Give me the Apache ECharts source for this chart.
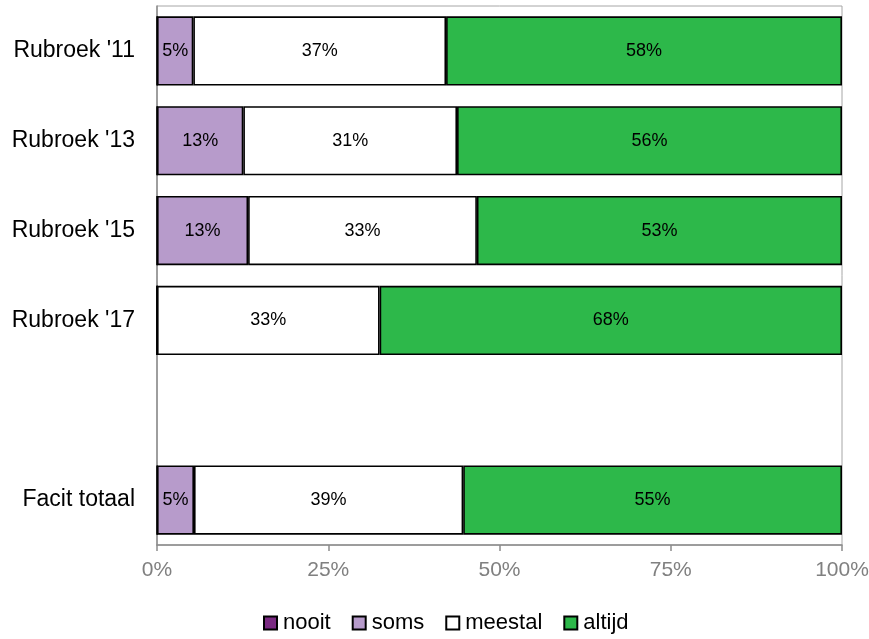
<!DOCTYPE html>
<html><head><meta charset="utf-8">
<script src="https://cdn.jsdelivr.net/npm/echarts@6/dist/echarts.min.js"></script>
<style>html,body{margin:0;padding:0;background:#fff}#c{width:869px;height:639px}</style>
</head><body><div id="c"></div>
<script>
var categories = ["Rubroek '11", "Rubroek '13", "Rubroek '15", "Rubroek '17", "", "Facit totaal"];
var nooit   = [0, 0, 0, 0, null, 0];
var soms    = [5.3, 12.6, 13.3, 0, null, 5.4];
var meestal = [36.9, 31.2, 33.4, 32.5, null, 39.3];
var altijd  = [57.8, 56.2, 53.3, 67.5, null, 55.3];
var tickLabels = ['0%', '25%', '50%', '75%', '100%'];

var font = '"Liberation Sans", Arial, sans-serif';
function mk(name, data, color) {
  return {
    name: name, type: 'bar', stack: 'all', data: data, barWidth: '77%',
    itemStyle: { color: color, borderColor: '#000', borderWidth: 1.6 },
    label: {
      show: true, position: 'inside', color: '#000', fontFamily: font, fontSize: 18,
      formatter: function (p) { return (p.value == null || p.value < 1) ? '' : Math.round(p.value) + '%'; }
    }
  };
}
var chart = echarts.init(document.getElementById('c'));
chart.setOption({
  animation: false,
  grid: { left: 157, right: 27, top: 6, bottom: 94, show: true, borderColor: '#a6a6a6', borderWidth: 1,
          containLabel: false, outerBoundsMode: 'none' },
  xAxis: {
    type: 'value', min: 0, max: 100, interval: 25,
    axisLine: { show: true, lineStyle: { color: '#8c8c8c', width: 1.5 } },
    axisTick: { show: true, length: 6, lineStyle: { color: '#8c8c8c', width: 1.5 } },
    splitLine: { show: false },
    axisLabel: { color: '#808080', fontFamily: font, fontSize: 21, margin: 15,
      formatter: function (v) { return tickLabels[Math.round(v / 25)]; } }
  },
  yAxis: {
    type: 'category', data: categories, inverse: true,
    axisLine: { show: true, lineStyle: { color: '#8c8c8c', width: 1.5 } },
    axisTick: { show: false },
    axisLabel: { color: '#000', fontFamily: font, fontSize: 23, margin: 22 }
  },
  legend: {
    top: 612, left: 263, padding: 0, itemWidth: 13, itemHeight: 13, itemGap: 21, icon: 'rect',
    textStyle: { fontFamily: font, fontSize: 22, color: '#000', padding: [0, 0, 0, 1] },
    data: ['nooit', 'soms', 'meestal', 'altijd']
  },
  series: [
    mk('nooit', nooit, '#7a2a82'),
    mk('soms', soms, '#b79bcb'),
    mk('meestal', meestal, '#ffffff'),
    mk('altijd', altijd, '#2db84a')
  ]
});
</script></body></html>
